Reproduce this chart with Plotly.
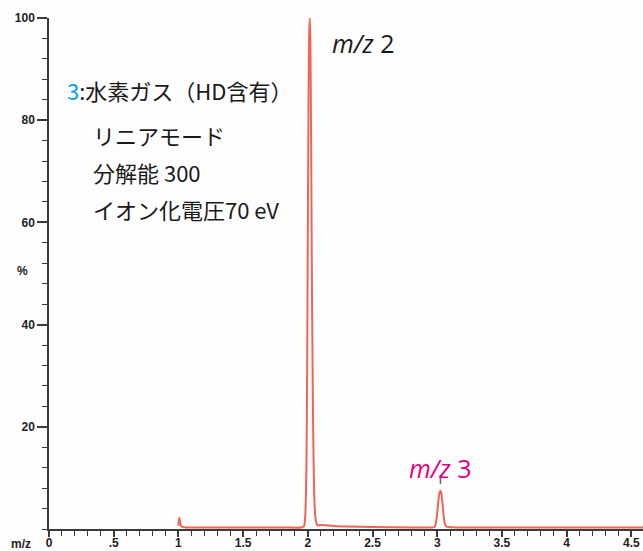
import plotly.graph_objects as go

# Spectrum profile (m/z, relative intensity %)
mz = [1.000, 1.004, 1.008, 1.012, 1.018, 1.025, 1.035, 1.06, 1.2, 1.5, 1.8, 1.95,
      1.970, 1.980, 1.990, 1.995, 2.000, 2.005, 2.010, 2.015, 2.020, 2.025, 2.030,
      2.040, 2.050, 2.060, 2.070, 2.080, 2.100, 2.150, 2.200, 2.300, 2.500, 2.800,
      2.950, 2.980, 2.990, 3.000, 3.010, 3.020, 3.025, 3.030, 3.040, 3.050, 3.060,
      3.070, 3.090, 3.200, 3.500, 4.000, 4.600]
intensity = [0.6, 1.8, 2.2, 1.6, 0.8, 0.5, 0.4, 0.3, 0.3, 0.3, 0.3, 0.3,
             0.5, 2.5, 14.0, 32.0, 58.0, 82.0, 97.0, 100.0, 95.0, 78.0, 55.0,
             22.0, 6.0, 2.0, 0.9, 0.7, 0.8, 0.7, 0.6, 0.5, 0.4, 0.3,
             0.3, 0.4, 1.2, 3.2, 5.8, 7.3, 7.5, 7.2, 5.2, 2.5, 0.9,
             0.5, 0.4, 0.3, 0.3, 0.3, 0.3]

x_tickvals = [0, 0.5, 1, 1.5, 2, 2.5, 3, 3.5, 4, 4.5]
x_ticktext = ["0", ".5", "1", "1.5", "2", "2.5", "3", "3.5", "4", "4.5"]
y_tickvals = [20, 40, 60, 80, 100]
y_ticktext = ["20", "40", "60", "80", "100"]

title_num = "3"
title_text = ":水素ガス（HD含有）"
info_lines = ["リニアモード", "分解能 300", "イオン化電圧70 eV"]
peak_labels = [("<i>m/z</i> 2", 2.17, 95.1, "#1a1a1a"),
               ("<i>m/z</i> 3", 2.765, 11.9, "#e4007f")]

axis_col = "#3a3a3a"
tick_font = dict(family="Liberation Sans, Arial", size=12, color="#222222")
jp_font = "Noto Sans CJK JP, Noto Sans"

fig = go.Figure()
fig.add_trace(go.Scatter(x=mz, y=intensity, mode="lines",
                         line=dict(color="#ee6655", width=2, shape="spline", smoothing=0.6),
                         cliponaxis=False, hoverinfo="skip"))

fig.update_layout(
    width=643, height=551,
    margin=dict(l=49, r=0, t=18, b=22, autoexpand=False),
    paper_bgcolor="#fdfdfd", plot_bgcolor="#fdfdfd",
    showlegend=False,
    xaxis=dict(range=[0, 4.59], showgrid=False, zeroline=False, showline=True,
               automargin=False,
               linecolor=axis_col, linewidth=1.5, ticks="outside", ticklen=6,
               ticklabelstandoff=-4,
               tickwidth=1.5, tickcolor=axis_col, tickvals=x_tickvals,
               ticktext=[f"<b>{t}</b>" for t in x_ticktext], tickfont=tick_font,
               minor=dict(dtick=0.1, tick0=0, ticks="outside", ticklen=5,
                          tickwidth=1.2, tickcolor=axis_col, showgrid=False)),
    yaxis=dict(range=[0, 100], showgrid=False, zeroline=False, showline=True,
               automargin=False,
               linecolor=axis_col, linewidth=1.5, ticks="outside", ticklen=10,
               tickwidth=1.5, tickcolor=axis_col, tickvals=y_tickvals,
               ticktext=[f"<b>{t}</b>" for t in y_ticktext], tickfont=tick_font,
               minor=dict(dtick=4, tick0=0, ticks="outside", ticklen=5,
                          tickwidth=1.2, tickcolor=axis_col, showgrid=False)),
)

ann = []
ann.append(dict(xref="paper", yref="paper", x=-0.047, y=-0.030, text="<b>m/z</b>",
                showarrow=False, xanchor="center", yanchor="middle",
                font=dict(family="Liberation Sans, Arial", size=12, color="#222222")))
ann.append(dict(xref="paper", yref="y", x=-0.045, y=50.5, text="<b>%</b>",
                showarrow=False, xanchor="center", yanchor="middle",
                font=dict(family="Liberation Sans, Arial", size=12, color="#222222")))
ann.append(dict(xref="x", yref="y", x=0.12, y=86.0,
                text=f"<span style='color:#00a0e9'>{title_num}</span>{title_text}",
                showarrow=False, xanchor="left", yanchor="middle",
                font=dict(family=jp_font, size=22, color="#1a1a1a")))
for i, line in enumerate(info_lines):
    ann.append(dict(xref="x", yref="y", x=0.325, y=77.1 - i * 7.25, text=line,
                    showarrow=False, xanchor="left", yanchor="middle",
                    font=dict(family=jp_font, size=22, color="#1a1a1a")))
for txt, xx, yy, col in peak_labels:
    ann.append(dict(xref="x", yref="y", x=xx, y=yy, text=txt, showarrow=False,
                    xanchor="left", yanchor="middle",
                    font=dict(family="Open Sans, Noto Sans", size=25, color=col)))
fig.update_layout(annotations=ann)

fig.add_shape(type="line", xref="x", yref="y", x0=3.025, x1=3.025, y0=8.8, y1=10.6,
              line=dict(color="#666666", width=1.5))

fig.write_html("out.html", config={"displayModeBar": False},
               post_script="document.body.style.margin='0';document.body.style.overflow='hidden';")
